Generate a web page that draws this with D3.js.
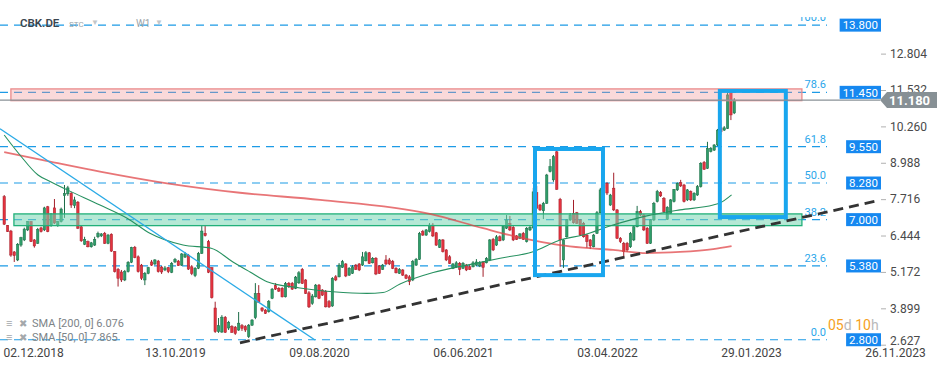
<!DOCTYPE html>
<html>
<head>
<meta charset="utf-8">
<script src="https://cdn.jsdelivr.net/npm/d3@7"></script>
<style>
  body { margin: 0; background: #fff; }
  svg { display: block; font-family: Roboto, "Noto Sans", sans-serif; }
</style>
</head>
<body>
<div id="chart"></div>
<script>
// weekly candles, first one is the week of 21.10.2018
const startDate = new Date(2018, 9, 21);

const opens = [7.80,6.79,6.60,5.87,5.59,6.11,6.29,6.64,6.93,6.29,
  6.17,6.71,6.64,7.45,6.81,7.41,6.81,6.93,7.84,7.90,
  7.92,7.49,7.61,6.75,6.14,6.23,6.05,6.11,6.40,6.43,
  6.52,6.17,6.49,5.88,5.26,5.17,4.89,5.18,5.51,6.03,
  5.70,5.41,4.89,5.12,5.52,5.45,5.55,5.34,5.24,5.32,
  5.16,5.52,5.55,5.41,5.69,5.76,5.35,5.04,5.30,5.82,
  6.52,6.23,5.32,3.91,3.08,3.07,3.58,3.21,3.26,3.24,
  3.14,3.29,3.26,2.91,3.31,3.57,4.42,3.91,3.84,3.78,
  4.25,4.69,4.60,4.60,4.30,4.77,4.77,4.60,4.79,5.26,
  4.89,4.44,4.07,4.30,4.71,4.54,4.48,4.13,3.98,5.00,
  5.00,5.33,5.45,5.06,5.12,5.41,5.45,5.41,5.56,5.84,
  5.49,5.65,5.38,5.26,5.59,5.59,5.53,5.30,5.12,5.24,
  5.06,5.00,4.89,5.41,5.61,6.58,6.46,6.58,6.81,6.54,
  6.03,6.29,5.94,5.70,5.30,5.35,5.47,5.30,5.41,5.35,
  5.35,5.41,5.38,5.52,5.49,5.59,6.31,6.11,6.40,6.29,
  6.70,6.87,6.73,6.43,6.35,6.52,6.23,6.64,6.71,7.94,
  7.51,7.31,7.57,8.68,8.39,9.37,7.71,5.59,6.40,6.99,
  7.22,7.24,6.99,6.87,6.46,6.29,6.05,6.52,7.24,8.21,
  8.27,7.51,8.10,7.34,6.35,6.17,6.17,6.05,6.29,6.75,
  7.28,7.16,6.70,6.17,6.99,7.63,7.94,7.74,7.01,7.22,
  7.63,8.04,8.29,8.21,7.69,7.98,7.69,7.86,8.15,9.00,
  8.79,9.38,9.43,9.61,10.21,10.13,10.19,11.47,10.73];

const highs = [7.86,6.81,6.64,5.90,6.18,6.40,6.72,6.95,6.95,6.32,
  6.71,6.75,7.45,7.48,7.22,7.72,6.95,7.42,8.21,8.18,
  7.97,7.80,7.65,6.78,6.40,6.27,6.22,6.40,6.58,6.53,
  6.57,6.50,6.52,5.90,5.31,5.24,5.24,5.55,6.05,6.08,
  5.75,5.45,5.17,5.35,5.59,5.62,5.59,5.38,5.38,5.34,
  5.52,5.66,5.59,5.83,5.87,5.80,5.41,5.34,5.87,6.78,
  6.78,6.29,5.34,4.13,3.56,3.66,3.63,3.46,3.31,3.28,
  3.77,3.35,3.31,3.35,3.52,4.78,4.71,3.94,3.87,4.19,
  4.61,4.78,4.64,4.64,4.82,4.82,4.82,5.03,5.20,5.31,
  4.92,4.50,4.40,4.75,4.75,4.57,4.54,4.19,4.99,5.06,
  5.48,5.59,5.48,5.34,5.41,5.45,5.48,5.87,5.90,5.87,
  5.69,5.69,5.41,5.45,5.76,5.66,5.59,5.34,5.31,5.27,
  5.10,5.06,5.59,5.66,6.57,6.64,6.67,6.88,6.88,6.57,
  6.32,6.32,5.97,5.76,5.48,5.55,5.52,5.52,5.45,5.41,
  5.55,5.62,5.55,5.55,5.69,6.32,6.36,6.46,6.45,6.81,
  7.16,7.13,6.78,6.46,6.53,6.57,6.74,6.78,8.11,8.18,
  7.55,7.62,8.60,9.12,9.26,9.47,7.76,6.32,7.02,7.23,
  7.69,7.27,7.02,6.92,6.50,6.32,6.50,7.30,8.11,8.63,
  8.31,7.90,8.64,7.37,6.39,6.22,6.22,6.57,6.81,7.48,
  7.34,7.20,6.74,7.02,7.62,8.04,8.00,7.79,7.47,7.72,
  8.07,8.30,8.39,8.25,8.07,8.02,7.96,8.21,9.01,9.05,
  9.72,9.54,9.64,10.17,10.48,10.27,11.47,11.50,11.25];

const lows = [6.81,6.57,5.70,5.52,5.55,6.05,6.25,6.60,6.22,6.02,
  6.15,6.55,6.60,6.56,6.75,6.85,6.75,6.90,7.06,7.83,
  7.41,7.40,6.67,6.22,6.11,6.03,6.02,6.08,6.35,6.39,
  6.15,6.14,5.87,5.15,4.66,4.82,4.85,5.15,5.48,5.65,
  5.15,4.89,4.71,5.09,5.38,5.41,5.15,5.10,5.20,5.13,
  5.13,5.48,5.38,5.38,5.66,5.24,5.06,4.99,5.27,5.80,
  6.41,5.13,4.24,3.04,3.04,3.04,3.04,3.14,3.04,2.97,
  3.11,3.11,3.07,2.86,3.28,3.52,4.09,3.77,3.70,3.75,
  4.22,4.54,4.47,4.28,4.28,4.61,4.54,4.57,4.75,4.75,
  4.40,3.91,4.02,4.28,4.22,4.33,3.93,3.91,3.95,4.85,
  4.98,5.31,4.99,5.03,5.10,5.24,5.20,5.38,5.54,5.45,
  5.47,5.06,5.10,5.24,5.41,5.41,5.27,5.12,5.10,5.03,
  4.92,4.71,4.85,5.38,5.59,6.43,6.43,6.55,6.39,6.08,
  6.01,5.85,5.55,5.45,5.27,5.31,5.06,5.27,5.20,5.24,
  5.33,5.38,5.34,5.00,5.47,5.55,5.90,6.08,6.24,6.25,
  6.67,6.60,6.25,6.29,6.32,6.29,6.20,6.60,6.67,7.37,
  7.30,7.02,7.55,8.65,8.32,8.04,5.35,5.31,6.37,6.95,
  6.86,6.85,6.43,6.37,6.01,5.97,6.03,6.50,7.23,8.04,
  7.86,7.48,7.30,6.32,6.18,5.69,5.87,6.01,6.25,6.73,
  7.13,6.60,6.15,6.15,6.95,7.60,7.79,7.25,6.99,7.20,
  7.60,8.00,8.14,7.60,7.65,7.65,7.65,7.83,8.12,8.74,
  8.77,9.35,9.40,9.57,9.96,10.10,10.17,10.48,10.69];

const closes = [6.84,6.58,5.76,5.74,6.14,6.37,6.67,6.93,6.23,6.08,
  6.66,6.58,7.41,6.58,7.20,6.88,6.93,7.37,7.92,8.11,
  7.51,7.69,6.70,6.26,6.31,6.05,6.19,6.31,6.52,6.50,
  6.17,6.46,5.90,5.18,4.95,4.89,5.18,5.51,6.03,5.67,
  5.18,4.95,5.12,5.32,5.41,5.59,5.18,5.17,5.31,5.18,
  5.47,5.61,5.39,5.80,5.80,5.27,5.12,5.30,5.82,6.60,
  6.44,5.16,4.27,3.08,3.29,3.59,3.06,3.41,3.06,3.02,
  3.38,3.20,3.14,3.31,3.49,4.42,4.11,3.82,3.72,4.13,
  4.57,4.57,4.50,4.30,4.77,4.66,4.57,4.99,5.14,4.77,
  4.42,3.95,4.33,4.71,4.25,4.36,3.95,3.95,4.95,4.89,
  5.41,5.53,5.03,5.30,5.35,5.26,5.24,5.70,5.84,5.47,
  5.65,5.10,5.12,5.41,5.45,5.45,5.30,5.14,5.26,5.06,
  4.95,4.83,5.53,5.61,6.52,6.46,6.64,6.81,6.43,6.11,
  6.29,5.88,5.59,5.47,5.45,5.49,5.26,5.47,5.24,5.26,
  5.49,5.52,5.49,5.33,5.65,6.29,5.94,6.40,6.26,6.78,
  6.99,6.64,6.29,6.31,6.50,6.31,6.70,6.73,7.97,7.40,
  7.34,7.57,8.56,8.85,9.20,8.06,6.29,6.29,6.99,7.16,
  6.89,6.87,6.46,6.40,6.23,6.08,6.46,7.24,8.04,8.10,
  7.93,7.86,7.34,6.35,6.23,5.88,5.94,6.52,6.75,7.28,
  7.16,6.64,6.17,6.99,7.57,7.98,7.83,7.28,7.43,7.69,
  8.06,8.27,8.18,7.63,8.04,7.69,7.92,8.15,8.97,8.76,
  9.49,9.49,9.61,10.13,10.07,10.21,11.36,10.66,11.18];

// moving averages (candle index, price)
const sma200Idx = [0, 13.7, 28.6, 48.6, 70.4, 94.3, 127.1, 143, 153.1, 159.1, 166, 172.8, 181.8, 191.9, 201.8, 211.7, 217.2];
const sma200Val = [9.36, 9.03, 8.68, 8.27, 7.94, 7.69, 7.20, 6.70, 6.40, 6.25, 6.11, 6.02, 5.94, 5.83, 5.87, 5.97, 6.076];
const sma50Idx = [0, 4.7, 10.1, 13.7, 18.8, 28.6, 36.7, 43.5, 53.4, 61.8, 68.3, 73.4, 78.5, 88.3, 98.2, 108.3, 113.1, 118.2, 128.1, 138.2, 148.1, 157.9, 166, 172.8, 181.8, 191.9, 201.8, 211.7, 213.7, 217.2];
const sma50Val = [9.96, 9.26, 8.56, 8.33, 8.04, 7.51, 7.05, 6.52, 6.11, 6.00, 5.52, 5.17, 4.83, 4.61, 4.48, 4.42, 4.45, 4.75, 5.15, 5.41, 5.65, 5.88, 6.29, 6.46, 6.81, 7.13, 7.34, 7.51, 7.58, 7.865];

const fibNames = ['0.0', '23.6', '38.2', '50.0', '61.8', '78.6', '100.0'];
const fibPrices = [2.8, 5.38, 7.0, 8.28, 9.55, 11.45, 13.8];
const priceTicks = [2.627, 3.899, 5.172, 6.444, 7.716, 8.988, 10.260, 11.532, 12.804];
const dateTicks = ['02.12.2018', '13.10.2019', '09.08.2020', '06.06.2021', '03.04.2022', '29.01.2023', '26.11.2023'];
const lastPrice = 11.18;

// drawn objects: [idx0, idx1] and [price0, price1]
const downTrend = [[-1.25, 10.18], [92.8, 2.79]];
const upTrend = [[70.4, 2.69], [260.3, 7.65]];
const greenZone = [[2.9, 238.2], [6.79, 7.20]];
const redZone = [[2.0, 238.2], [11.16, 11.57]];
const boxes = [[[158.5, 178.8], [5.06, 9.47]], [[213.7, 233.4], [7.09, 11.50]]];

const W = 949, H = 370;
const parse = d3.timeParse('%d.%m.%Y');
const dayMs = 864e5;
const idxDate = i => new Date(startDate.getTime() + i * 7 * dayMs);

const x = d3.scaleTime()
  .domain([parse(dateTicks[0]), parse(dateTicks[dateTicks.length - 1])])
  .range([24.3, 895]);
const y = d3.scaleLinear().domain([2.627, 11.532]).range([344.7, 90]);
const xi = i => x(idxDate(i));

const svg = d3.select('#chart').append('svg')
  .attr('width', W).attr('height', H);

svg.append('defs').append('clipPath').attr('id', 'plot')
  .append('rect').attr('x', 0).attr('y', 17).attr('width', 880).attr('height', 330);

const plot = svg.append('g').attr('clip-path', 'url(#plot)');

// fibonacci levels
const fib = plot.append('g');
fibPrices.forEach((p, k) => {
  fib.append('line')
    .attr('x1', 0).attr('x2', 827)
    .attr('y1', y(p)).attr('y2', y(p))
    .attr('stroke', '#1d9be6').attr('stroke-width', 1.2)
    .attr('stroke-dasharray', '8,6');
  fib.append('text')
    .attr('x', 826).attr('y', y(p) - 4)
    .attr('text-anchor', 'end')
    .attr('font-size', 11).attr('fill', '#2aa6ea')
    .text(fibNames[k]);
});

// candles
const candles = closes.map((c, i) => ({ i, o: opens[i], h: highs[i], l: lows[i], c }));
const bw = 2.4;
const cg = plot.append('g');
candles.forEach(d => {
  const up = d.c >= d.o;
  const line = up ? '#1c6c47' : '#a31f2a';
  const fill = up ? '#2e9d69' : '#e3333f';
  const cx = xi(d.i);
  cg.append('line')
    .attr('x1', cx).attr('x2', cx)
    .attr('y1', y(d.h)).attr('y2', y(d.l))
    .attr('stroke', line).attr('stroke-width', 1);
  const top = y(Math.max(d.o, d.c)), bot = y(Math.min(d.o, d.c));
  cg.append('rect')
    .attr('x', cx - bw / 2).attr('y', top)
    .attr('width', bw).attr('height', Math.max(1, bot - top))
    .attr('fill', fill).attr('stroke', line).attr('stroke-width', 0.5);
});

// zones (translucent, over the candles)
function zone(z, fill, stroke) {
  plot.append('rect')
    .attr('x', xi(z[0][0])).attr('y', y(z[1][1]))
    .attr('width', xi(z[0][1]) - xi(z[0][0]))
    .attr('height', y(z[1][0]) - y(z[1][1]))
    .attr('fill', fill).attr('stroke', stroke).attr('stroke-width', 1.3);
}
zone(greenZone, 'rgba(120,213,179,0.55)', '#22b07a');
zone(redZone, 'rgba(240,147,150,0.35)', '#ea8a8a');

// moving averages
const smaLine = d3.line().curve(d3.curveMonotoneX)
  .x(d => xi(d[0])).y(d => y(d[1]));
plot.append('path')
  .attr('d', smaLine(sma200Idx.map((v, k) => [v, sma200Val[k]])))
  .attr('fill', 'none').attr('stroke', '#e0474a').attr('stroke-opacity', 0.75).attr('stroke-width', 1.8);
plot.append('path')
  .attr('d', smaLine(sma50Idx.map((v, k) => [v, sma50Val[k]])))
  .attr('fill', 'none').attr('stroke', '#279160').attr('stroke-width', 1.1);

// trend lines
const straight = d3.line().x(d => xi(d[0])).y(d => y(d[1]));
plot.append('path').attr('d', straight(downTrend))
  .attr('fill', 'none').attr('stroke', '#2aaae6').attr('stroke-width', 1.3);
plot.append('path').attr('d', straight(upTrend))
  .attr('fill', 'none').attr('stroke', '#333').attr('stroke-width', 2.8)
  .attr('stroke-dasharray', '10,6');

// highlight boxes
boxes.forEach(b => {
  plot.append('rect')
    .attr('x', xi(b[0][0])).attr('y', y(b[1][1]))
    .attr('width', xi(b[0][1]) - xi(b[0][0]))
    .attr('height', y(b[1][0]) - y(b[1][1]))
    .attr('fill', 'none').attr('stroke', '#19a6ee').attr('stroke-width', 4);
});

// current price line
svg.append('line')
  .attr('x1', 0).attr('x2', 880)
  .attr('y1', y(lastPrice)).attr('y2', y(lastPrice))
  .attr('stroke', '#8a9297').attr('stroke-width', 1.2);

// right axis
const gy = svg.append('g').attr('transform', 'translate(881,0)')
  .call(d3.axisRight(y).tickValues(priceTicks).tickFormat(d3.format('.3f')).tickSize(5).tickPadding(4));
gy.select('.domain').remove();
gy.selectAll('line').attr('stroke', '#b0b0b0');
gy.selectAll('text').attr('font-size', 12).attr('fill', '#4a4a4a')
  .attr('font-family', 'Roboto, sans-serif');
// lowest label sits a little higher so it stays clear of the date row
gy.selectAll('.tick').filter(d => d === priceTicks[0]).select('text').attr('y', -4.5);

// bottom axis
const gx = svg.append('g').attr('transform', 'translate(0,348)')
  .call(d3.axisBottom(x).tickValues(dateTicks.map(parse))
    .tickFormat(d3.timeFormat('%d.%m.%Y')).tickSize(0).tickPadding(0));
gx.select('.domain').remove();
gx.selectAll('text').attr('font-size', 12).attr('fill', '#444')
  .attr('font-family', 'Roboto, sans-serif');
gx.select('.tick text').attr('text-anchor', 'start').attr('x', 3 - x(parse(dateTicks[0])));

// blue price tags for the fib levels
fibPrices.forEach(p => {
  const g = svg.append('g');
  const t = g.append('text')
    .attr('x', 878).attr('y', y(p) + 4.2)
    .attr('text-anchor', 'end')
    .attr('font-size', 11.5).attr('fill', '#fff')
    .text(d3.format('.3f')(p));
  const w = t.node().getComputedTextLength();
  g.insert('rect', 'text')
    .attr('x', 881 - w - 6).attr('y', y(p) - 6.5)
    .attr('width', w + 6).attr('height', 13)
    .attr('fill', '#1688f0');
});

// last price flag
const ly = y(lastPrice);
svg.append('path')
  .attr('d', `M880,${ly} L887,${ly - 8} L937,${ly - 8} L937,${ly + 8} L887,${ly + 8} Z`)
  .attr('fill', '#879095');
svg.append('text')
  .attr('x', 889).attr('y', ly + 4.5)
  .attr('font-size', 13).attr('font-weight', 'bold').attr('fill', '#fff')
  .text(d3.format('.3f')(lastPrice));

// header
svg.append('text').attr('x', 20).attr('y', 27)
  .attr('font-size', 11.5).attr('font-weight', 600).attr('fill', '#3b4650').text('CBK.DE');
svg.append('text').attr('x', 69).attr('y', 27)
  .attr('font-size', 8).attr('fill', '#9aa3a8').text('STC');
svg.append('text').attr('x', 91).attr('y', 25)
  .attr('font-size', 8).attr('fill', '#c2c6c9').text('▼');
svg.append('text').attr('x', 136).attr('y', 27)
  .attr('font-size', 10).attr('fill', '#9aa3a8').text('W1');
svg.append('text').attr('x', 155).attr('y', 25)
  .attr('font-size', 8).attr('fill', '#c2c6c9').text('▼');

// indicator legend
[['SMA [200, 0] 6.076', 327], ['SMA [50, 0] 7.865', 341]].forEach(([label, ly2]) => {
  svg.append('text').attr('x', 6).attr('y', ly2)
    .attr('font-size', 11).attr('fill', '#a4a8ab').text('≡');
  svg.append('text').attr('x', 19).attr('y', ly2)
    .attr('font-size', 10).attr('fill', '#a4a8ab').text('✖');
  svg.append('text').attr('x', 32).attr('y', ly2)
    .attr('font-size', 11).attr('fill', '#7d8488').text(label);
});

// countdown to candle close
const cd = svg.append('text').attr('x', 828).attr('y', 330)
  .attr('font-size', 14);
cd.append('tspan').attr('fill', '#f6a11c').text('05');
cd.append('tspan').attr('fill', '#b9b9b9').text('d ');
cd.append('tspan').attr('fill', '#f6a11c').text('10');
cd.append('tspan').attr('fill', '#b9b9b9').text('h');
</script>
</body>
</html>
